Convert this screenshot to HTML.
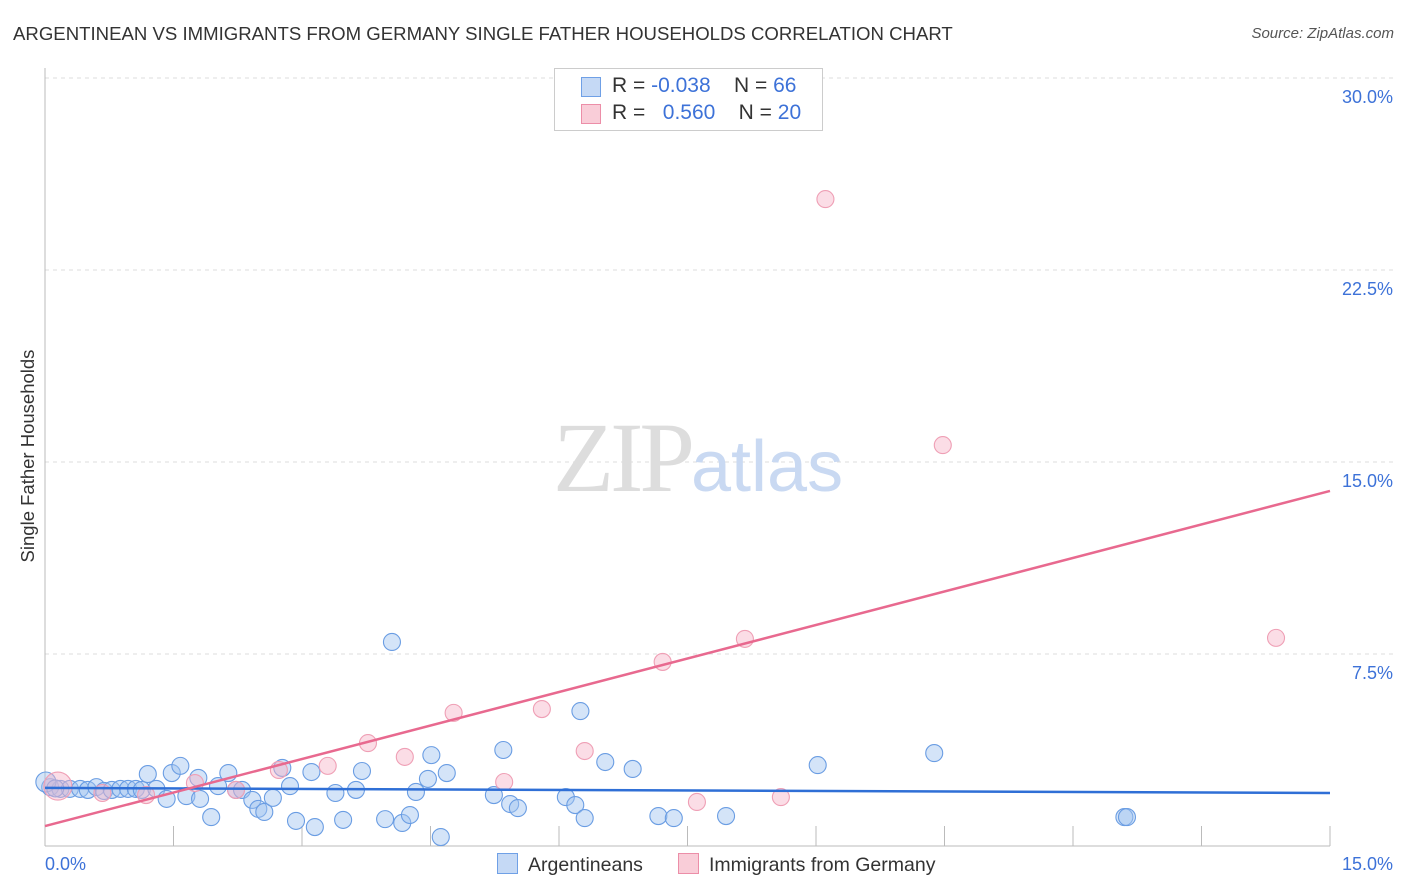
<!DOCTYPE html>
<html><head><meta charset="utf-8"><style>
body{margin:0;background:#fff;font-family:"Liberation Sans",sans-serif;}
#wrap{position:relative;width:1406px;height:892px;overflow:hidden;}
.t{position:absolute;white-space:nowrap;}
</style></head><body>
<div id="wrap">
<div class="t" style="left:13px;top:23px;font-size:18.6px;color:#333;">ARGENTINEAN VS IMMIGRANTS FROM GERMANY SINGLE FATHER HOUSEHOLDS CORRELATION CHART</div>
<div class="t" style="right:12px;top:25px;font-size:15px;color:#555;font-style:italic;">Source: ZipAtlas.com</div>
<div class="t" style="left:28px;top:456px;font-size:18.5px;color:#333;transform:translate(-50%,-50%) rotate(-90deg);">Single Father Households</div>
<svg id="svg" width="1406" height="892" style="position:absolute;left:0;top:0"></svg>
<div class="t" style="left:553px;top:400px;font-size:100px;font-family:'Liberation Serif',serif;color:#ddd;letter-spacing:-4px;">ZIP<span style="font-family:'Liberation Sans',sans-serif;color:#c9d9f2;font-size:72px;letter-spacing:0">atlas</span></div>
<div style="position:absolute;left:554px;top:68px;width:267px;height:61px;border:1px solid #ccc;background:#fff;font-size:21px;color:#333;">
 <div style="position:absolute;left:26px;top:8px;width:18px;height:18px;background:#c5d9f5;border:1px solid #6fa0e6;"></div>
 <div class="t" style="left:57px;top:5px;">R = <span style="color:#3d72d8">-0.038</span>&nbsp;&nbsp;&nbsp;&nbsp;N = <span style="color:#3d72d8">66</span></div>
 <div style="position:absolute;left:26px;top:35px;width:18px;height:18px;background:#f9cdd8;border:1px solid #ec8ea8;"></div>
 <div class="t" style="left:57px;top:32px;">R = &nbsp;&nbsp;<span style="color:#3d72d8">0.560</span>&nbsp;&nbsp;&nbsp;&nbsp;N = <span style="color:#3d72d8">20</span></div>
</div>
<div style="position:absolute;left:497px;top:853px;font-size:19.5px;color:#333;">
 <span style="display:inline-block;width:19px;height:19px;background:#c5d9f5;border:1px solid #6fa0e6;vertical-align:-3px;margin-right:10px"></span>Argentineans</div>
<div style="position:absolute;left:678px;top:853px;font-size:19.5px;color:#333;">
 <span style="display:inline-block;width:19px;height:19px;background:#f9cdd8;border:1px solid #ec8ea8;vertical-align:-3px;margin-right:10px"></span>Immigrants from Germany</div>
</div>
<script>
const blueX=[0.06,0.18,0.29,0.41,0.50,0.60,0.69,0.78,0.88,0.97,1.06,1.13,1.20,1.30,1.42,1.48,1.58,1.65,1.79,1.81,1.94,2.02,2.14,2.23,2.30,2.42,2.49,2.56,2.66,2.77,2.86,2.93,3.11,3.15,3.39,3.48,3.63,3.70,3.97,4.05,4.17,4.26,4.33,4.47,4.51,4.62,4.69,5.24,5.35,5.43,5.52,6.08,6.19,6.25,6.30,6.54,6.86,7.16,7.34,7.95,9.02,10.38,12.60,12.63,0.01,0.12];
const blueY=[2.30,2.23,2.23,2.23,2.19,2.30,2.15,2.19,2.23,2.23,2.23,2.19,2.81,2.23,1.84,2.85,3.13,1.95,2.66,1.84,1.13,2.34,2.85,2.19,2.19,1.80,1.45,1.33,1.88,3.05,2.34,0.98,2.89,0.74,2.07,1.02,2.19,2.93,1.05,7.97,0.90,1.21,2.11,2.62,3.55,0.35,2.85,1.99,3.75,1.64,1.48,1.91,1.60,5.27,1.09,3.28,3.01,1.17,1.09,1.17,3.16,3.63,1.13,1.13,2.50,2.25];
const pinkX=[0.15,0.67,1.18,1.75,2.23,2.73,3.30,3.77,4.20,4.77,5.36,5.80,6.30,7.21,7.61,8.17,8.59,9.11,10.48,14.37];
const pinkY=[2.34,2.07,1.99,2.46,2.19,2.97,3.13,4.02,3.48,5.20,2.50,5.35,3.71,7.19,1.72,8.09,1.91,25.27,15.66,8.13];
const blueTrend=[2.27,2.07];
const pinkTrend=[0.78,13.87];
const yTicks=[7.5,15,22.5,30];
const yTickLabels=["7.5%","15.0%","22.5%","30.0%"];
const xTicks=[1.5,3,4.5,6,7.5,9,10.5,12,13.5,15];
const X0=45,X1=1330,Y0=846,Y1=78;
const sx=v=>X0+(v/15)*(X1-X0), sy=v=>Y0-(v/30)*(Y0-Y1);
const svg=document.getElementById('svg');const NS='http://www.w3.org/2000/svg';
function mk(t,a){const e=document.createElementNS(NS,t);for(const k in a)e.setAttribute(k,a[k]);svg.appendChild(e);return e;}
yTicks.forEach((v,i)=>{
 const g=mk('line',{x1:X0,x2:1393,y1:sy(v),y2:sy(v),stroke:'#ddd','stroke-dasharray':'4,4'});
 
 
 const t=mk('text',{x:1393,y:sy(v)+25,'text-anchor':'end','font-size':18,fill:'#3d72d8','font-family':'Liberation Sans, sans-serif'});
 t.textContent=yTickLabels[i];
 
 
});
const ax=mk('line',{x1:X0,x2:X0,y1:68,y2:Y0,stroke:'#bbb'});


const bx=mk('line',{x1:X0,x2:X1,y1:Y0,y2:Y0,stroke:'#bbb'});


xTicks.forEach(v=>{const l=mk('line',{x1:sx(v),x2:sx(v),y1:826,y2:Y0,stroke:'#bbb'});
 
 });
const xl0=mk('text',{x:45,y:870,'font-size':18,fill:'#3d72d8','font-family':'Liberation Sans, sans-serif'});xl0.textContent='0.0%';


const xl1=mk('text',{x:1393,y:870,'text-anchor':'end','font-size':18,fill:'#3d72d8','font-family':'Liberation Sans, sans-serif'});xl1.textContent='15.0%';


blueX.forEach((x,i)=>{const c=mk('circle',{cx:sx(x),cy:sy(blueY[i]),r:i==64?10:8.5,fill:'rgba(160,195,240,0.45)',stroke:'#6a9de3','stroke-width':1.1});
 
 });
pinkX.forEach((x,i)=>{const c=mk('circle',{cx:sx(x),cy:sy(pinkY[i]),r:i==0?14:8.5,fill:'rgba(246,180,200,0.45)',stroke:'#ef9fb5','stroke-width':1.1});
 
 });
const bl=mk('line',{x1:sx(0),x2:sx(15),y1:sy(blueTrend[0]),y2:sy(blueTrend[1]),stroke:'#2f6fd6','stroke-width':2.5});


const pl=mk('line',{x1:sx(0),x2:sx(15),y1:sy(pinkTrend[0]),y2:sy(pinkTrend[1]),stroke:'#e8698f','stroke-width':2.5});


</script>
</body></html>
